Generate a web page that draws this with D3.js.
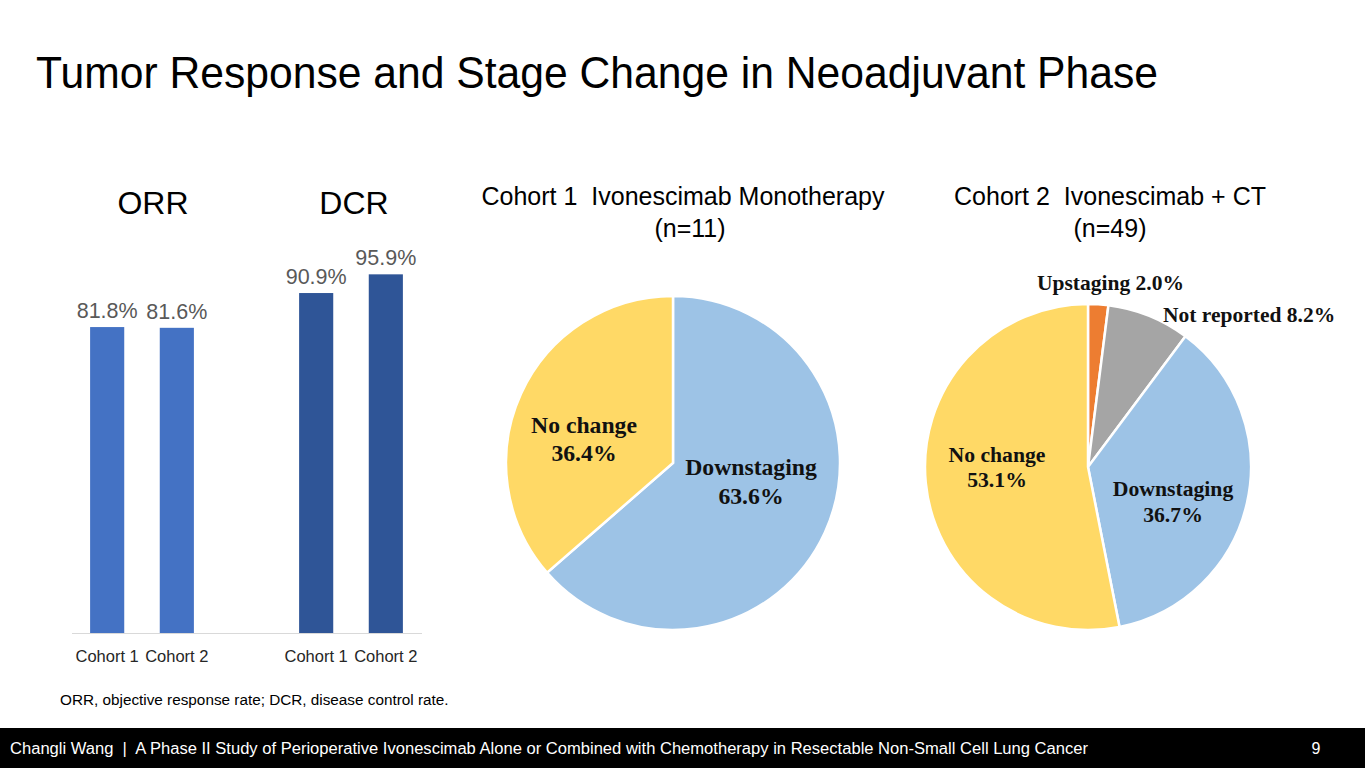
<!DOCTYPE html>
<html><head><meta charset="utf-8">
<script src="https://cdn.jsdelivr.net/npm/d3@7"></script>
<style>body{margin:0;background:#fff;}svg{display:block;}</style>
</head><body>
<svg id="c" width="1365" height="768"></svg>
<script>
// ---- data ----
const barGroups = ["ORR", "DCR"];
const barCategories = ["Cohort 1", "Cohort 2"];
const orrValues = [81.8, 81.6];
const dcrValues = [90.9, 95.9];
const pie1Labels = ["Downstaging", "No change"];
const pie1Values = [63.6, 36.4];
const pie2Labels = ["Upstaging", "Not reported", "Downstaging", "No change"];
const pie2Values = [2.0, 8.2, 36.7, 53.1];

const svg = d3.select("#c");
const sans = "'Liberation Sans', Arial, sans-serif";
const narrow = "'Liberation Sans Narrow', 'Liberation Sans', Arial, sans-serif";
const serif = "'Liberation Serif', 'Times New Roman', serif";

// title
svg.append("text").attr("x", 36).attr("y", 88).attr("font-family", narrow)
  .attr("font-size", 45).attr("fill", "#000").attr("textLength", 1122).attr("lengthAdjust", "spacingAndGlyphs")
  .text("Tumor Response and Stage Change in Neoadjuvant Phase");

// ---- bar chart ----
const y = d3.scaleLinear().domain([0, 100]).range([633, 259]);
const barData = [
  {g: "ORR", vals: orrValues, color: "#4472C4"},
  {g: "DCR", vals: dcrValues, color: "#2F5597"}
];
const inner = d3.scaleBand().domain(barCategories).paddingInner(0.51).paddingOuter(0.26);
const groupCenters = {ORR: 142, DCR: 351};
const headCenters = {ORR: 153, DCR: 354};
barData.forEach(bd => {
  inner.range([groupCenters[bd.g] - 70, groupCenters[bd.g] + 70]);
  barCategories.forEach((cat, i) => {
    const v = bd.vals[i];
    const x0 = inner(cat);
    const bw = inner.bandwidth();
    svg.append("rect").attr("x", x0).attr("y", y(v)).attr("width", bw).attr("height", y(0) - y(v)).attr("fill", bd.color);
    svg.append("text").attr("x", x0 + bw / 2).attr("y", y(v) - 9).attr("text-anchor", "middle")
      .attr("font-family", sans).attr("font-size", 21.5).attr("fill", "#595959").text(v.toFixed(1) + "%");
    svg.append("text").attr("x", x0 + bw / 2).attr("y", 662).attr("text-anchor", "middle")
      .attr("font-family", sans).attr("font-size", 16.5).attr("fill", "#262626").text(cat);
  });
  svg.append("text").attr("x", headCenters[bd.g]).attr("y", 214).attr("text-anchor", "middle")
    .attr("font-family", sans).attr("font-size", 32).attr("fill", "#000").text(bd.g);
});
svg.append("line").attr("x1", 72).attr("x2", 422).attr("y1", y(0) + 0.5).attr("y2", y(0) + 0.5)
  .attr("stroke", "#d9d9d9").attr("stroke-width", 1);

svg.append("text").attr("x", 60).attr("y", 705).attr("font-family", sans).attr("font-size", 15.3)
  .attr("fill", "#000").text("ORR, objective response rate; DCR, disease control rate.");

// ---- pies ----
const pieColors = {"Upstaging": "#ED7D31", "Not reported": "#A5A5A5", "Downstaging": "#9DC3E6", "No change": "#FFD966"};
function drawPie(cx, cy, r, labels, values) {
  const data = labels.map((l, i) => ({label: l, value: values[i]}));
  const arcs = d3.pie().sort(null).value(d => d.value)(data);
  const arc = d3.arc().innerRadius(0).outerRadius(r);
  const g = svg.append("g").attr("transform", `translate(${cx},${cy})`);
  g.selectAll("path").data(arcs).join("path").attr("d", arc)
    .attr("fill", d => pieColors[d.data.label]).attr("stroke", "#fff").attr("stroke-width", 2.5);
  return data;
}
drawPie(673, 463, 167, pie1Labels, pie1Values);
drawPie(1088, 467, 163, pie2Labels, pie2Values);

function label(x, y, txt, size, anchor) {
  svg.append("text").attr("x", x).attr("y", y).attr("text-anchor", anchor || "middle")
    .attr("font-family", serif).attr("font-weight", "bold").attr("font-size", size).attr("fill", "#111").text(txt);
}
label(584, 433, pie1Labels[1], 23.7); label(584, 461, pie1Values[1].toFixed(1) + "%", 23.7);
label(751, 475, pie1Labels[0], 23.7); label(751, 504, pie1Values[0].toFixed(1) + "%", 23.7);
label(1037, 290, pie2Labels[0] + " " + pie2Values[0].toFixed(1) + "%", 21.5, "start");
label(1163, 322, pie2Labels[1] + " " + pie2Values[1].toFixed(1) + "%", 21.5, "start");
label(997, 462, pie2Labels[3], 21.7); label(997, 487, pie2Values[3].toFixed(1) + "%", 21.7);
label(1173, 496, pie2Labels[2], 21.7); label(1173, 522, pie2Values[2].toFixed(1) + "%", 21.7);

function title(x, y, txt) {
  svg.append("text").attr("x", x).attr("y", y).attr("text-anchor", "middle").attr("font-family", sans)
    .attr("font-size", 25).attr("fill", "#000").attr("xml:space", "preserve").style("white-space", "pre").text(txt);
}
title(683, 205, "Cohort 1  Ivonescimab Monotherapy");
title(690, 237, "(n=11)");
title(1110, 205, "Cohort 2  Ivonescimab + CT");
title(1110, 237, "(n=49)");

// footer
svg.append("rect").attr("x", 0).attr("y", 728).attr("width", 1365).attr("height", 40).attr("fill", "#000");
svg.append("text").attr("x", 10).attr("y", 754).attr("font-family", narrow).attr("font-size", 16)
  .attr("fill", "#fff").attr("xml:space", "preserve").style("white-space", "pre")
  .attr("textLength", 1078).attr("lengthAdjust", "spacingAndGlyphs")
  .text("Changli Wang  |  A Phase II Study of Perioperative Ivonescimab Alone or Combined with Chemotherapy in Resectable Non-Small Cell Lung Cancer");
svg.append("text").attr("x", 1316).attr("y", 754).attr("font-family", narrow).attr("font-size", 16)
  .attr("fill", "#fff").attr("text-anchor", "middle").text("9");
</script>
</body></html>
